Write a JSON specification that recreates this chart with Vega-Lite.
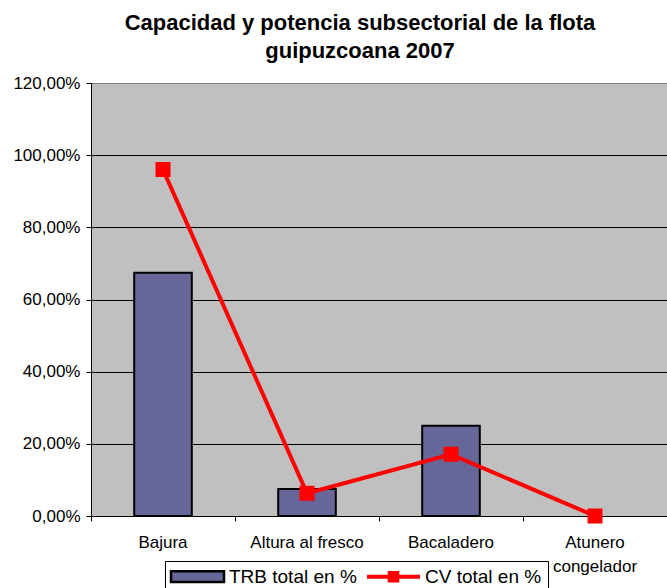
{
  "$schema": "https://vega.github.io/schema/vega-lite/v6.json",
  "width": 576,
  "height": 433,
  "autosize": {"type": "none"},
  "padding": {"left": 91, "top": 83, "right": 0, "bottom": 72},
  "background": "white",
  "config": {
    "font": "Liberation Sans",
    "view": {"fill": "#C0C0C0", "stroke": "#808080", "strokeWidth": 1}
  },
  "title": {
    "text": ["Capacidad y potencia subsectorial de la flota", "guipuzcoana 2007"],
    "fontSize": 22,
    "fontWeight": "bold",
    "font": "Liberation Sans",
    "color": "black",
    "anchor": "middle",
    "frame": "group",
    "dx": -19,
    "lineHeight": 28,
    "offset": 11
  },
  "data": {
    "values": [
      {"cat": "Bajura", "series": "TRB total en %", "value": 67.4},
      {"cat": "Altura al fresco", "series": "TRB total en %", "value": 7.5},
      {"cat": "Bacaladero", "series": "TRB total en %", "value": 25.0},
      {"cat": "Atunero congelador", "series": "TRB total en %", "value": 0},
      {"cat": "Bajura", "series": "CV total en %", "value": 96.0},
      {"cat": "Altura al fresco", "series": "CV total en %", "value": 6.3},
      {"cat": "Bacaladero", "series": "CV total en %", "value": 17.1},
      {"cat": "Atunero congelador", "series": "CV total en %", "value": 0}
    ]
  },
  "encoding": {
    "x": {
      "field": "cat",
      "type": "nominal",
      "sort": ["Bajura", "Altura al fresco", "Bacaladero", "Atunero congelador"],
      "scale": {"paddingInner": 0.6, "paddingOuter": 0.3},
      "axis": {
        "title": null,
        "bandPosition": -0.75,
        "labelOffset": 0,
        "labelAngle": 0,
        "labelFontSize": 17,
        "labelColor": "black",
        "labelPadding": 13,
        "labelLineHeight": 24,
        "labelLimit": 300,
        "labelExpr": "datum.value == 'Atunero congelador' ? ['Atunero', 'congelador'] : datum.value",
        "domainColor": "black",
        "domainWidth": 1,
        "tickColor": "black",
        "tickSize": 5,
        "grid": false
      }
    },
    "y": {
      "field": "value",
      "type": "quantitative",
      "scale": {"domain": [0, 120], "nice": false},
      "axis": {
        "title": null,
        "values": [0, 20, 40, 60, 80, 100, 120],
        "labelExpr": "replace(format(datum.value, '.2f'), '.', ',') + '%'",
        "labelFontSize": 17,
        "labelColor": "black",
        "labelPadding": 6,
        "domainColor": "black",
        "tickColor": "black",
        "tickSize": 5,
        "grid": true,
        "gridColor": {"condition": {"test": "datum.value == 120", "value": "#808080"}, "value": "black"},
        "gridOpacity": 1,
        "gridWidth": 1
      }
    },
    "stroke": {
      "field": "series",
      "type": "nominal",
      "scale": {"domain": ["TRB total en %", "CV total en %"], "range": ["black", "#FF0000"]},
      "legend": {
        "title": null,
        "orient": "none",
        "legendX": 74,
        "legendY": 478,
        "direction": "horizontal",
        "fillColor": "white",
        "strokeColor": "black",
        "padding": 6,
        "labelFontSize": 19,
        "labelColor": "black",
        "labelLimit": 300,
        "labelOffset": 22,
        "symbolOffset": 17,
        "columnPadding": 10,
        "symbolSize": 2809,
        "symbolOpacity": 1,
        "encode": {
          "symbols": {
            "update": {
              "shape": {"signal": "datum.value == 'TRB total en %' ? 'M-1,-0.2H1V0.2H-1Z' : 'M-1,-0.075H1V0.075H-1Z M-0.22,-0.22H0.22V0.22H-0.22Z'"},
              "strokeWidth": {"signal": "datum.value == 'TRB total en %' ? 2.5 : 0"},
              "opacity": {"value": 1},
              "fillOpacity": {"value": 1},
              "strokeOpacity": {"value": 1}
            }
          }
        }
      }
    }
  },
  "layer": [
    {
      "transform": [{"filter": "datum.series == 'TRB total en %'"}],
      "mark": {"type": "bar", "opacity": 1},
      "encoding": {
        "fill": {
          "field": "series",
          "type": "nominal",
          "scale": {"domain": ["TRB total en %", "CV total en %"], "range": ["#666699", "#FF0000"]},
          "legend": {
            "title": null,
            "orient": "none",
            "legendX": 74,
            "legendY": 478,
            "direction": "horizontal",
            "fillColor": "white",
            "strokeColor": "black",
            "padding": 6,
            "labelFontSize": 19,
            "labelColor": "black",
            "labelLimit": 300,
            "labelOffset": 22,
            "symbolOffset": 17,
            "columnPadding": 10,
            "symbolSize": 2809,
            "symbolOpacity": 1,
            "encode": {
              "symbols": {
                "update": {
                  "shape": {"signal": "datum.value == 'TRB total en %' ? 'M-1,-0.2H1V0.2H-1Z' : 'M-1,-0.075H1V0.075H-1Z M-0.22,-0.22H0.22V0.22H-0.22Z'"},
                  "strokeWidth": {"signal": "datum.value == 'TRB total en %' ? 2.5 : 0"},
                  "opacity": {"value": 1},
                  "fillOpacity": {"value": 1},
                  "strokeOpacity": {"value": 1}
                }
              }
            }
          }
        },
        "strokeWidth": {"condition": {"test": "datum.value == 0", "value": 0}, "value": 2}
      }
    },
    {
      "transform": [{"filter": "datum.series == 'CV total en %'"}],
      "mark": {
        "type": "line",
        "strokeWidth": 4,
        "point": {"shape": "square", "size": 169, "filled": true, "fill": "#FF0000", "opacity": 1}
      }
    }
  ]
}
